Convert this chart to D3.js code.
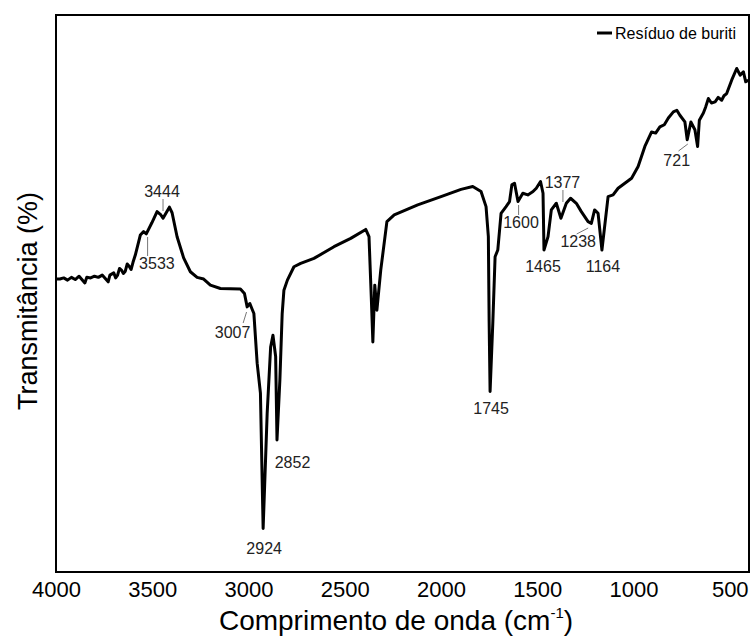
<!DOCTYPE html>
<html>
<head>
<meta charset="utf-8">
<script src="https://cdn.jsdelivr.net/npm/d3@7"></script>
<style>
  body { margin: 0; background: #fff; }
  text { font-family: "Liberation Sans", Arial, sans-serif; }
</style>
</head>
<body>
<svg id="chart"></svg>
<script>
// spectrum (wavenumber in cm-1, transmittance in arbitrary %)
const wavenumber = [4000, 3980, 3960, 3940, 3920, 3900, 3880, 3850, 3840, 3820, 3800, 3780, 3760, 3729, 3720, 3700, 3690, 3680, 3670, 3660,
  3650, 3640, 3630, 3620, 3610, 3600, 3588, 3562, 3545, 3531, 3502, 3475, 3455, 3444, 3411, 3397, 3371, 3337, 3302, 3267, 3233, 3198,
  3146, 3042, 3021, 3007, 2993, 2979, 2972, 2955, 2938, 2924, 2903, 2885, 2873, 2859, 2852, 2837, 2825, 2816, 2798, 2764, 2729, 2660,
  2556, 2469, 2391, 2374, 2361, 2354, 2344, 2333, 2313, 2281, 2243, 2121, 2000, 1896, 1835, 1792, 1766, 1754, 1750, 1745, 1731, 1719,
  1705, 1688, 1662, 1644, 1632, 1618, 1600, 1575, 1549, 1522, 1505, 1483, 1470, 1465, 1444, 1427, 1401, 1377, 1349, 1327, 1297, 1271,
  1236, 1219, 1202, 1184, 1164, 1132, 1106, 1080, 1045, 1010, 976, 941, 906, 885, 863, 840, 819, 793, 775, 759, 733, 721, 702, 681,
  667, 658, 637, 625, 611, 595, 576, 560, 542, 530, 516, 490, 464, 446, 429, 417, 403];
const transmittance = [52.6, 52.6, 52.8, 52.4, 52.9, 52.5, 53.1, 51.9, 52.9, 52.8, 53.1, 52.9, 53.3, 52.1, 53.3, 53.7, 52.8, 53.3, 54.5, 54.2,
  53.6, 54.0, 55.3, 54.9, 54.3, 55.6, 56.9, 60.5, 61.1, 60.7, 62.7, 64.7, 64.1, 63.5, 65.5, 64.5, 60.2, 56.4, 53.9, 52.9, 52.6, 51.5,
  50.9, 50.8, 50.0, 47.6, 48.2, 47.0, 46.4, 37.5, 32.1, 7.8, 28.5, 40.4, 42.5, 38.7, 23.7, 34.5, 46.4, 50.6, 52.4, 54.8, 55.4, 56.3,
  58.4, 59.9, 61.5, 60.2, 48.2, 41.3, 51.5, 47.0, 54.2, 62.9, 64.1, 65.9, 67.4, 68.7, 69.2, 68.3, 65.6, 60.2, 45.0, 32.4, 44.6, 56.6,
  57.8, 64.4, 65.6, 66.5, 69.5, 69.8, 66.5, 68.0, 67.7, 68.3, 68.9, 70.1, 68.0, 57.8, 60.2, 65.0, 66.2, 63.5, 66.2, 67.1, 66.2, 64.7,
  62.9, 62.6, 65.0, 64.4, 57.8, 67.4, 67.7, 68.9, 69.8, 70.7, 72.8, 76.4, 79.0, 78.8, 79.9, 80.3, 81.5, 82.6, 82.9, 82.0, 80.8, 77.6, 80.8, 79.4,
  76.4, 81.1, 82.4, 83.5, 85.0, 84.2, 84.4, 85.2, 84.7, 85.5, 85.9, 88.3, 90.4, 89.2, 89.8, 88.0, 88.3];

const xTicks = [4000, 3500, 3000, 2500, 2000, 1500, 1000, 500];
const peakLabels = [3444, 3533, 3007, 2924, 2852, 1745, 1600, 1465, 1377, 1238, 1164, 721];
const seriesName = "Resíduo de buriti";

// label placement (px), offset from the peak's x position
const labelLayout = {
  3444: { dx: -1, ty: 197, lead: [0, 199, 0, 211] },
  3533: { dx: 11, ty: 269, lead: [1.7, 237, 1.7, 256] },
  3007: { dx: -14.6, ty: 338, lead: [-0.6, 312, -4, 323] },
  2924: { dx: 1, ty: 554 },
  2852: { dx: 15.5, ty: 468 },
  1745: { dx: 1, ty: 414 },
  1600: { dx: 3, ty: 228, lead: [0.6, 205, 0.6, 215] },
  1465: { dx: -1, ty: 272 },
  1377: { dx: 1.5, ty: 188, lead: [2, 190, 2, 202] },
  1238: { dx: -9.5, ty: 247, lead: [-11, 234, 0.5, 228] },
  1164: { dx: 1, ty: 272 },
  721: { dx: -10.5, ty: 166, lead: [-8.7, 151, 0.6, 144] }
};

const width = 750, height = 642;
const plotLeft = 56, plotRight = 749, plotTop = 15, plotBottom = 572;

const svg = d3.select("#chart")
  .attr("width", width)
  .attr("height", height)
  .attr("viewBox", [0, 0, width, height]);

const x_scale = d3.scaleLinear().domain([4000, 400]).range([plotLeft, plotRight]);
const y_scale = d3.scaleLinear().domain([0, 100]).range([plotBottom, plotTop]);

// x axis: labels only
const gX = svg.append("g")
  .attr("transform", `translate(0, ${plotBottom})`)
  .call(d3.axisBottom(x_scale).tickValues(xTicks).tickSize(0).tickPadding(9).tickFormat(d3.format("d")));
gX.select(".domain").remove();
gX.selectAll("text")
  .style("font-size", "22px")
  .attr("fill", "#000")
  .attr("font-family", "Liberation Sans, Arial, sans-serif");

// axis titles
const xt = svg.append("text")
  .attr("x", 396).attr("y", 630)
  .attr("text-anchor", "middle")
  .style("font-size", "28px")
  .text("Comprimento de onda (cm");
xt.append("tspan").attr("dy", -12).style("font-size", "15px").text("-1");
xt.append("tspan").attr("dy", 12).text(")");

svg.append("text")
  .attr("transform", "translate(37, 301) rotate(-90)")
  .attr("text-anchor", "middle")
  .style("font-size", "27px")
  .text("Transmitância (%)");

// spectrum
const line = d3.line()
  .x((d, i) => x_scale(wavenumber[i]))
  .y(d => y_scale(d));

svg.append("path")
  .datum(transmittance)
  .attr("d", line)
  .attr("fill", "none")
  .attr("stroke", "#000")
  .attr("stroke-width", 3)
  .attr("stroke-linejoin", "round");

// peak labels
peakLabels.forEach(wn => {
  const lay = labelLayout[wn];
  const px = x_scale(wn);
  if (lay.lead) {
    svg.append("line")
      .attr("x1", px + lay.lead[0]).attr("y1", lay.lead[1])
      .attr("x2", px + lay.lead[2]).attr("y2", lay.lead[3])
      .attr("stroke", "#777")
      .attr("stroke-width", 1);
  }
  svg.append("text")
    .attr("x", px + lay.dx).attr("y", lay.ty)
    .attr("text-anchor", "middle")
    .style("font-size", "16px")
    .attr("fill", "#222")
    .text(wn);
});

// frame
svg.append("rect")
  .attr("x", plotLeft).attr("y", plotTop)
  .attr("width", plotRight - plotLeft).attr("height", plotBottom - plotTop)
  .attr("fill", "none")
  .attr("stroke", "#000")
  .attr("stroke-width", 2);

// legend
const legend = svg.append("g").attr("transform", "translate(597, 33)");
legend.append("line")
  .attr("x1", 0).attr("x2", 15)
  .attr("stroke", "#000").attr("stroke-width", 3);
legend.append("text")
  .attr("x", 18).attr("y", 6)
  .style("font-size", "16px")
  .text(seriesName);
</script>
</body>
</html>
